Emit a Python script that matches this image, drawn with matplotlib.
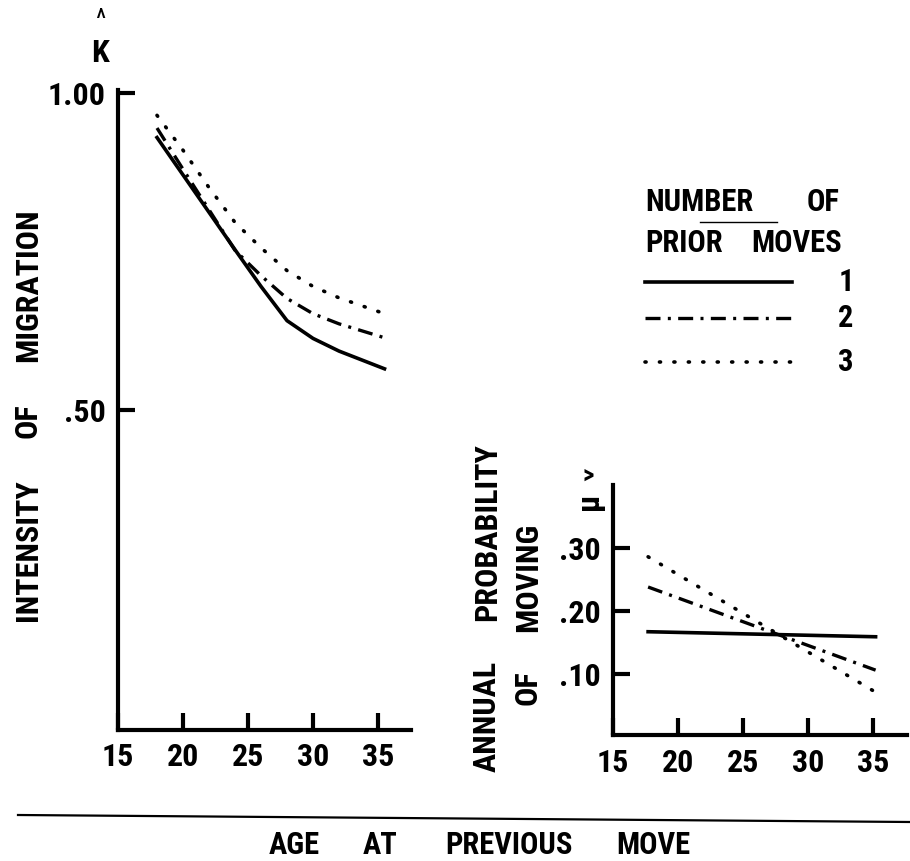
import matplotlib
matplotlib.use("Agg")
import matplotlib.pyplot as plt
from matplotlib.lines import Line2D

plt.rcParams['font.family'] = ['Roboto Condensed', 'DejaVu Sans']
plt.rcParams['font.weight'] = 'bold'

# intensity of migration (K hat) by age at previous move
age_main = [18, 20, 22, 24, 26, 28, 30, 32, 35.5]
k_1 = [0.93, 0.871, 0.812, 0.753, 0.695, 0.641, 0.613, 0.593, 0.565]
k_2 = [0.945, 0.88, 0.816, 0.752, 0.712, 0.676, 0.652, 0.636, 0.614]
k_3 = [0.965, 0.91, 0.851, 0.796, 0.756, 0.72, 0.695, 0.677, 0.652]

# annual probability of moving (mu hat)
age_inset = [17.7, 35.2]
mu_1 = [0.167, 0.159]
mu_2 = [0.238, 0.106]
mu_3 = [0.286, 0.071]

x_ticks = [15, 20, 25, 30, 35]
k_ticks = [0.5, 1.0]
k_tick_labels = ['.50', '1.00']
mu_ticks = [0.1, 0.2, 0.3]
mu_tick_labels = ['.10', '.20', '.30']
move_labels = ['1', '2', '3']

W, H = 910, 861


def fx(px):
    return px / W


def fy(py):
    return 1 - py / H


styles = [
    dict(color='black', lw=2.6, ls='-'),
    dict(color='black', lw=2.4, dashes=(4.5, 2.2, 0.9, 2.2)),
    dict(color='black', lw=2.6, dashes=(0.3, 3.7), dash_capstyle='round'),
]

fig = plt.figure(figsize=(W / 100, H / 100), dpi=100)


def style_axes(ax):
    for s in ['top', 'right']:
        ax.spines[s].set_visible(False)
    for s in ['left', 'bottom']:
        ax.spines[s].set_linewidth(3)
    ax.tick_params(direction='in', length=12, width=3, labelsize=23, pad=9)


# main panel
ax = fig.add_axes([fx(118), fy(730), (411 - 118) / W, (730 - 90) / H])
for vals, st in zip([k_1, k_2, k_3], styles):
    ax.plot(age_main, vals, **st)
ax.set_xlim(15, 15 + (411 - 118) / 13)
ax.set_ylim(-0.005, 1.005)
ax.set_xticks(x_ticks)
ax.set_yticks(k_ticks)
ax.set_yticklabels(k_tick_labels)
style_axes(ax)

# inset panel
ax2 = fig.add_axes([fx(613), fy(735), (907 - 613) / W, (735 - 485) / H])
for vals, st in zip([mu_1, mu_2, mu_3], styles):
    ax2.plot(age_inset, vals, **st)
ax2.set_xlim(15, 15 + (907 - 613) / 13)
ax2.set_ylim(0.003, 0.40)
ax2.set_xticks(x_ticks)
ax2.set_yticks(mu_ticks)
ax2.set_yticklabels(mu_tick_labels)
style_axes(ax2)

# axis labels, word by word
fs = 23
for word, py in [('MIGRATION', 285), ('OF', 421), ('INTENSITY', 550)]:
    fig.text(fx(28), fy(py), word, rotation=90, ha='center', va='center', fontsize=fs)
fig.text(fx(100), fy(20), '^', ha='center', va='center', fontsize=20, weight='normal')
fig.text(fx(100), fy(53), 'K', ha='center', va='center', fontsize=fs)

for word, px, py in [('PROBABILITY', 487, 532), ('ANNUAL', 487, 716),
                     ('MOVING', 528, 577), ('OF', 528, 688)]:
    fig.text(fx(px), fy(py), word, rotation=90, ha='center', va='center', fontsize=fs)
fig.text(fx(588), fy(476), '>', ha='center', va='center', fontsize=18)
fig.text(fx(589), fy(501), 'μ', rotation=90, ha='center', va='center', fontsize=fs)

for word, px in [('AGE', 294), ('AT', 380), ('PREVIOUS', 509), ('MOVE', 653)]:
    fig.text(fx(px), fy(845), word, ha='center', va='center', fontsize=22)

# rule above the common x label
fig.add_artist(Line2D([fx(18), fx(910)], [fy(815), fy(822)], color='black', lw=1.6,
                      transform=fig.transFigure))

# legend
fig.text(fx(645), fy(202), 'NUMBER', ha='left', va='center', fontsize=22)
fig.text(fx(840), fy(202), 'OF', ha='right', va='center', fontsize=22)
fig.text(fx(645), fy(243), 'PRIOR', ha='left', va='center', fontsize=22)
fig.text(fx(842), fy(243), 'MOVES', ha='right', va='center', fontsize=22)
fig.add_artist(Line2D([fx(700), fx(777)], [fy(222), fy(222)], color='black', lw=1,
                      transform=fig.transFigure))
for lab, st, py in zip(move_labels, styles, [282, 318, 362]):
    fig.add_artist(Line2D([fx(645), fx(792)], [fy(py), fy(py)], transform=fig.transFigure, **st))
    fig.text(fx(846), fy(py), lab, ha='center', va='center', fontsize=22)

fig.savefig('out.png', dpi=100)
